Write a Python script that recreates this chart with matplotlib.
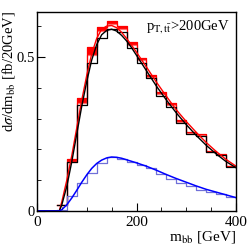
"""
m_bb distribution for p_T,tt > 200 GeV: binned histograms (20 GeV bins)
with smooth fitted curves on top.
"""

import numpy as np
import matplotlib
matplotlib.use("Agg")
import matplotlib.pyplot as plt

plt.rcParams["font.family"] = ["Liberation Serif", "DejaVu Serif"]
plt.rcParams["mathtext.fontset"] = "stix"

# bin edges (GeV)
edges = [40, 60, 80, 100, 120, 140, 160, 180, 200, 220, 240, 260, 280, 300,
         320, 340, 360, 380, 400]

black_hist = [0.018, 0.160, 0.345, 0.480, 0.562, 0.590, 0.582, 0.529, 0.480,
              0.430, 0.373, 0.338, 0.286, 0.250, 0.243, 0.190, 0.180, 0.143]
red_lo = [0.018, 0.160, 0.350, 0.506, 0.584, 0.607, 0.592, 0.540, 0.490,
          0.436, 0.380, 0.345, 0.290, 0.252, 0.246, 0.192, 0.182, 0.145]
red_hi = [0.020, 0.168, 0.365, 0.532, 0.597, 0.617, 0.600, 0.549, 0.497,
          0.442, 0.386, 0.350, 0.295, 0.256, 0.250, 0.195, 0.185, 0.147]
blue_hist = [0.004, 0.050, 0.090, 0.123, 0.155, 0.175, 0.169, 0.158, 0.150,
             0.138, 0.120, 0.104, 0.090, 0.081, 0.068, 0.062, 0.055, 0.046]

curve_m = [0, 40, 45, 50, 60, 70, 80, 90, 100, 110, 120, 130, 140, 150, 160,
           170, 180, 190, 200, 220, 240, 260, 280, 300, 320, 340, 360, 380, 400]
black_curve = [0, 0, 0, 0.02, 0.08, 0.16, 0.25, 0.34, 0.42, 0.49, 0.54, 0.572,
               0.586, 0.59, 0.584, 0.57, 0.552, 0.53, 0.505, 0.455, 0.405,
               0.36, 0.318, 0.28, 0.245, 0.213, 0.185, 0.16, 0.14]
red_curve = [0, 0, 0, 0.03, 0.10, 0.18, 0.27, 0.36, 0.44, 0.51, 0.56, 0.59,
             0.60, 0.602, 0.595, 0.58, 0.56, 0.538, 0.515, 0.467, 0.418,
             0.372, 0.328, 0.29, 0.255, 0.222, 0.193, 0.167, 0.145]
blue_curve = [0, 0, 0, 0.004, 0.02, 0.042, 0.067, 0.093, 0.117, 0.138, 0.154,
              0.165, 0.172, 0.175, 0.174, 0.171, 0.166, 0.161, 0.156, 0.145,
              0.132, 0.118, 0.105, 0.093, 0.081, 0.070, 0.061, 0.052, 0.043]


def step(vals):
    # repeat last value so step='post' closes the final bin
    return list(vals) + [vals[-1]]


fig = plt.figure(figsize=(2.48, 2.49), dpi=100)
ax = fig.add_axes([0.149, 0.153, 0.803, 0.799])

ax.fill_between(edges, step(red_lo), step(red_hi), step="post",
                color="red", linewidth=0)
ax.step(edges, step(red_lo), where="post", color="#ff7070", lw=0.9)
ax.step(edges, step(red_hi), where="post", color="red", lw=0.9)
ax.step(edges, step(black_hist), where="post", color="black", lw=0.9)
ax.step(edges, step(blue_hist), where="post", color="#7070d8", lw=0.9)

ax.plot(curve_m, red_curve, color="red", lw=1.0)
ax.plot(curve_m, black_curve, color="black", lw=1.0)
ax.plot(curve_m, blue_curve, color="blue", lw=1.1)

ax.set_xlim(0, 400)
ax.set_ylim(0, 0.646)
ax.set_xticks([0, 200, 400])
ax.set_xticks(np.arange(0, 401, 50), minor=True)
ax.set_yticks([0, 0.5])
ax.set_yticklabels(["0", "0.5"])
ax.set_yticks(np.arange(0, 0.65, 0.1), minor=True)
ax.tick_params(which="both", direction="in", top=False, right=False)
ax.tick_params(axis="x", labelsize=11, pad=3.5)
ax.tick_params(axis="y", labelsize=10.5, pad=1.5)
ax.tick_params(which="major", length=6)
ax.tick_params(which="minor", length=3)
for s in ax.spines.values():
    s.set_linewidth(1.0)

ax.set_xlabel(r"m$_{\rm bb}$ [GeV]", fontsize=11, loc="right", labelpad=0)
fig.text(9 / 248, 1 - 11 / 249, r"d$\sigma$/dm$_{\rm bb}$ [fb/20GeV]",
         fontsize=10.5, rotation=90, ha="center", va="top")
ax.text(0.97, 0.97, r"p$_{\rm T,t\bar{t}}$>200GeV", transform=ax.transAxes,
        ha="right", va="top", fontsize=10.5)

fig.savefig("out.png", dpi=100)
